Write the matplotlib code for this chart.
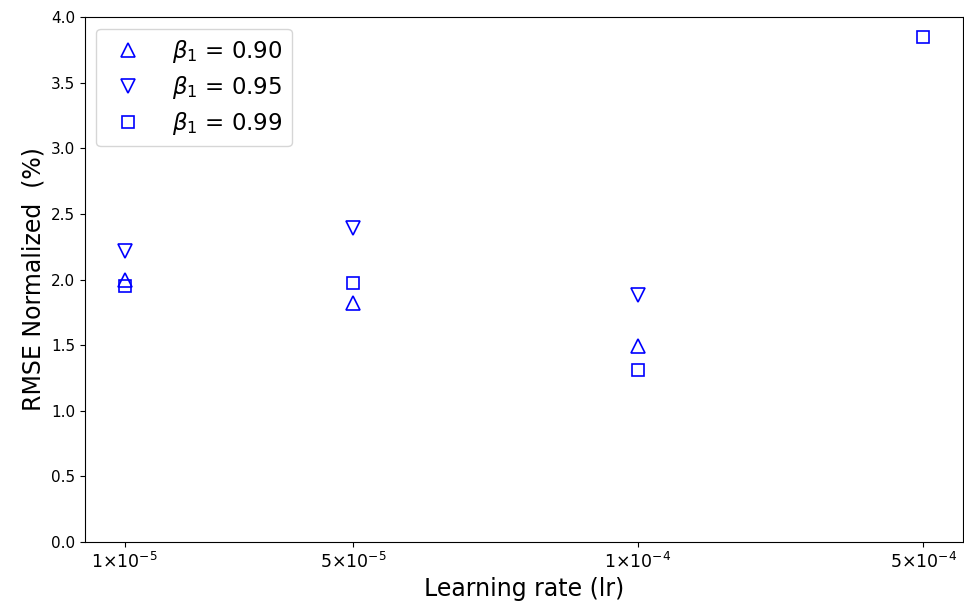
import numpy as np
import matplotlib.pyplot as plt

# learning rates shown as categorical positions
lr_labels = [r'$1{\times}10^{-5}$', r'$5{\times}10^{-5}$', r'$1{\times}10^{-4}$', r'$5{\times}10^{-4}$']
lr_pos = [0, 0.8, 1.8, 2.8]

# RMSE normalized (%) for each beta1
rmse_090 = [2.00, 1.82, 1.49, np.nan]
rmse_095 = [2.22, 2.39, 1.88, np.nan]
rmse_099 = [1.95, 1.97, 1.31, 3.85]

fig = plt.figure(figsize=(9.64, 6.10), dpi=100)
ax = fig.add_axes([0.088, 0.1115, 0.911, 0.8605])

ax.plot(lr_pos, rmse_090, '^', ms=10, mfc='none', mec='blue', mew=1.2, ls='none', label=r'$\beta_1$ = 0.90')
ax.plot(lr_pos, rmse_095, 'v', ms=10, mfc='none', mec='blue', mew=1.2, ls='none', label=r'$\beta_1$ = 0.95')
ax.plot(lr_pos, rmse_099, 's', ms=9, mfc='none', mec='blue', mew=1.2, ls='none', label=r'$\beta_1$ = 0.99')

ax.set_xticks(lr_pos)
ax.set_xticklabels(lr_labels)
ax.set_ylim(0, 4.0)
ax.tick_params(axis='y', labelsize=11)
ax.tick_params(axis='x', labelsize=12.5)
ax.set_xlabel('Learning rate (lr)', fontsize=17)
ax.set_ylabel('RMSE Normalized  (%)', fontsize=17)
ax.legend(loc='upper left', fontsize=16.5, handletextpad=0.9, labelspacing=0.4)

fig.savefig('out.png')
